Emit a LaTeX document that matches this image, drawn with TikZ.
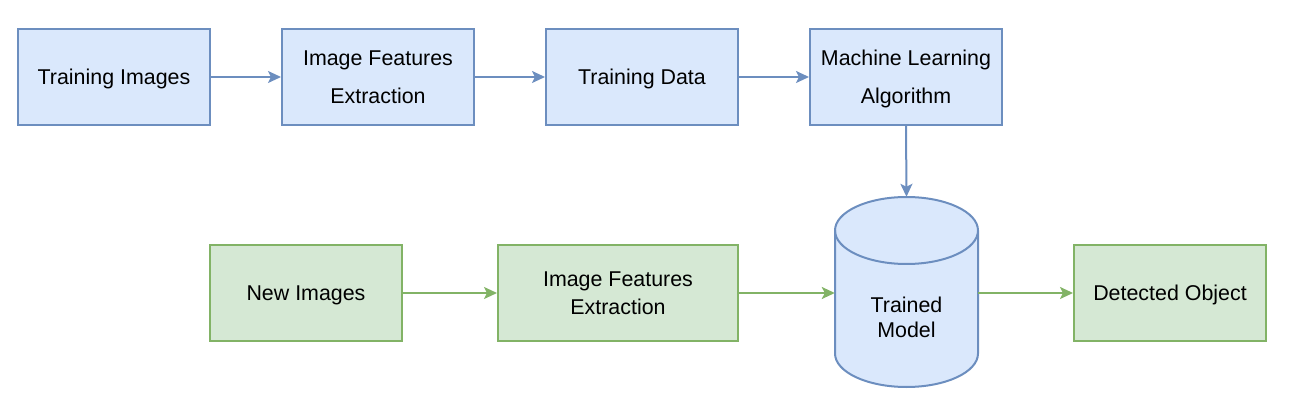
\documentclass[tikz,border=0pt]{standalone}
\usepackage{fontspec}
\setmainfont{Liberation Sans}
\usetikzlibrary{arrows.meta}
\definecolor{bfill}{HTML}{DAE8FC}
\definecolor{bdraw}{HTML}{6C8EBF}
\definecolor{gfill}{HTML}{D5E8D4}
\definecolor{gdraw}{HTML}{82B366}
\newcommand{\nodep}[1]{\raisebox{0pt}[\height][0pt]{#1}}
\begin{document}
\begin{tikzpicture}[x=1pt,y=1pt,
  box/.style={rectangle, minimum width=192pt, minimum height=96pt, line width=2pt, align=center, inner sep=0pt,
    font=\fontsize{21.4}{28.3}\selectfont},
  toptext/.style={font=\fontsize{21.4}{38.3}\selectfont},
  bluebox/.style={box, fill=bfill, draw=bdraw},
  greenbox/.style={box, fill=gfill, draw=gdraw},
  barrow/.style={draw=bdraw, line width=2pt, -{Stealth[length=13pt,width=12pt,inset=3pt]}},
  garrow/.style={draw=gdraw, line width=2pt, -{Stealth[length=13pt,width=12pt,inset=3pt]}},
  lbl/.style={align=center, inner sep=0pt, font=\fontsize{21.4}{25}\selectfont}
]
\useasboundingbox (0,0) rectangle (1290,407);
% top row
\node[bluebox] (ti) at (114,330) {\nodep{Training Images}};
\node[bluebox, toptext] (ife1) at (378,330) {Image Features\\Extraction};
\node[bluebox] (td) at (642,330) {\nodep{Training Data}};
\node[bluebox, toptext] (ml) at (906,330) {Machine Learning\\\nodep{Algorithm}};
% bottom row
\node[greenbox] (ni) at (306,114) {\nodep{New Images}};
\node[greenbox, minimum width=240pt] (ife2) at (618,114) {Image Features\\Extraction};
\node[greenbox] (do) at (1170,114) {\nodep{Detected Object}};
% cylinder
\node[minimum width=143pt, minimum height=190pt, inner sep=0pt] (tm) at (906.5,115) {};
\path[fill=bfill, draw=bdraw, line width=2pt]
  (835,176.5) -- (835,53.5)
  arc[start angle=180, end angle=360, x radius=71.5, y radius=33.5]
  -- (978,176.5)
  arc[start angle=0, end angle=180, x radius=71.5, y radius=33.5] -- cycle;
\draw[draw=bdraw, line width=2pt] (835,176.5) arc[start angle=180, end angle=360, x radius=71.5, y radius=33.5];
\node[lbl] (tml) at (906.5,90) {Trained\\Model};
% arrows
\draw[barrow] (ti) -- (ife1);
\draw[barrow] (ife1) -- (td);
\draw[barrow] (td) -- (ml);
\draw[barrow] (ml.south) -- (tm.north);
\draw[garrow] (ni) -- (ife2);
\draw[garrow] (ife2.east) -- (tm.west |- ife2.east);
\draw[garrow] (tm.east |- do.west) -- (do.west);
\end{tikzpicture}
\end{document}
